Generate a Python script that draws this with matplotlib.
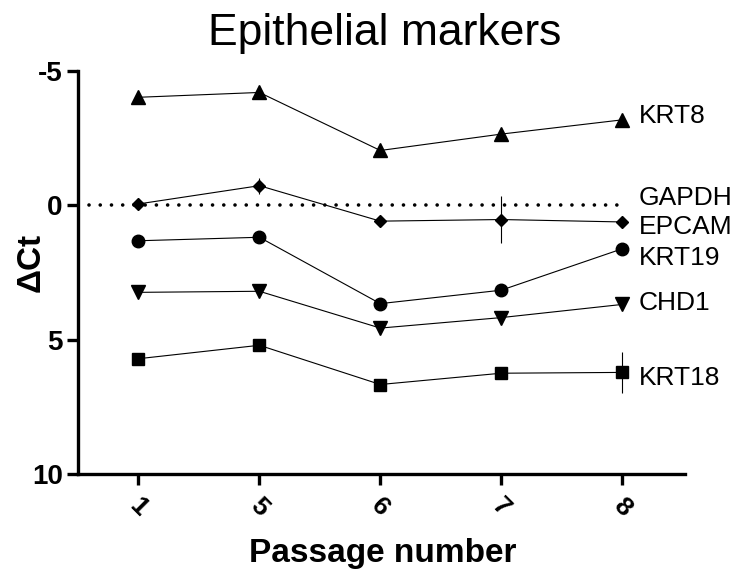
import matplotlib
matplotlib.use("Agg")
import matplotlib.pyplot as plt

plt.rcParams['font.family'] = ['Liberation Sans', 'DejaVu Sans']
plt.rcParams['axes.unicode_minus'] = False

passages = ["1", "5", "6", "7", "8"]
krt8 = [-4.02, -4.2, -2.04, -2.65, -3.18]
epcam = [-0.05, -0.73, 0.59, 0.53, 0.62]
krt19 = [1.32, 1.19, 3.66, 3.16, 1.62]
chd1 = [3.24, 3.2, 4.57, 4.18, 3.69]
krt18 = [5.71, 5.21, 6.67, 6.25, 6.22]

krt8_err = [0.05, 0.05, 0.05, 0.05, 0.05]
epcam_err = [0.1, 0.3, 0.1, 0.88, 0.1]
krt19_err = [0.05, 0.15, 0.05, 0.1, 0.05]
chd1_err = [0.05, 0.05, 0.05, 0.05, 0.05]
krt18_err = [0.1, 0.2, 0.1, 0.1, 0.75]

gapdh = 0.0
label_names = ["KRT8", "GAPDH", "EPCAM", "KRT19", "CHD1", "KRT18"]
label_y = [-3.33, -0.26, 0.8, 1.97, 3.63, 6.42]

fig = plt.figure(figsize=(7.45, 5.75), dpi=100)
ax = fig.add_axes([0.1047, 0.1757, 0.8148, 0.7009])

x = list(range(len(passages)))
series = [(krt8, krt8_err, '^', 9.5),
          (epcam, epcam_err, 'D', 6),
          (krt19, krt19_err, 'o', 9),
          (chd1, chd1_err, 'v', 9.5),
          (krt18, krt18_err, 's', 8.5)]
for vals, err, mk, ms in series:
    ax.errorbar(x, vals, yerr=err, color='black', marker=mk, markersize=ms,
                linewidth=0.8, elinewidth=0.8, capsize=0)

# GAPDH reference line
ax.plot([-0.41, 4.0], [gapdh, gapdh], color='black', linewidth=2.6,
        linestyle=(0, (0.01, 3.1)), dash_capstyle='round')

for name, yv in zip(label_names, label_y):
    ax.text(4.14, yv, name, fontsize=19, va='center', ha='left')

ax.set_xlim(-0.5, 4.52)
ax.set_ylim(10, -5)
ax.set_yticks([-5, 0, 5, 10])
ax.set_xticks(x)
ax.set_xticklabels(passages, rotation=-45, ha='center', fontsize=19,
                   fontweight='bold')
for t in ax.get_yticklabels():
    t.set_fontsize(20)
    t.set_fontweight('bold')
ax.spines['top'].set_visible(False)
ax.spines['right'].set_visible(False)
ax.spines['left'].set_linewidth(2.4)
ax.spines['bottom'].set_linewidth(2.4)
ax.tick_params(width=2.4, length=8, direction='out', pad=3)
ax.tick_params(axis='x', pad=6)

fig.text(31 / 745, 1 - 262 / 575, "ΔCt", fontsize=24, fontweight='bold',
         rotation=90, ha='center', va='center')
fig.text(383 / 745, 1 - 562 / 575, "Passage number", fontsize=24,
         fontweight='bold', ha='center', va='baseline')
fig.text(385 / 745, 1 - 45 / 575, "Epithelial markers", fontsize=32,
         ha='center', va='baseline')

fig.savefig("out.png", dpi=100)
